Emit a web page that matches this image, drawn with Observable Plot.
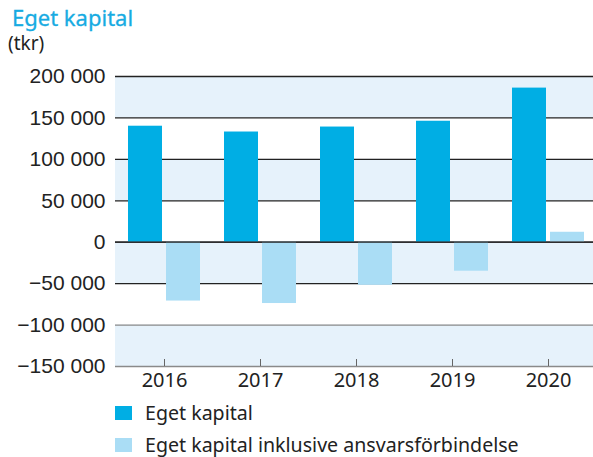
<!DOCTYPE html>
<html>
<head>
<meta charset="utf-8">
<script src="https://cdn.jsdelivr.net/npm/d3@7"></script>
<script src="https://cdn.jsdelivr.net/npm/@observablehq/plot@0.6"></script>
<style>
  html, body { margin: 0; padding: 0; background: #fff; }
  body { width: 593px; height: 457px; position: relative; overflow: hidden; font-family: "Noto Sans", sans-serif; color: #222; }
  #title { position: absolute; left: 12px; top: 0px; font-size: 22px; color: #17ABE2; font-weight: 400; line-height: 34px; white-space: nowrap; -webkit-text-stroke: 0.3px #17ABE2; }
  #unit { position: absolute; left: 8px; top: 31px; font-size: 19px; line-height: 24px; color: #222; }
  #chart { position: absolute; left: 0; top: 60px; }
  #legend { position: absolute; left: 115px; top: 401px; font-size: 19.6px; color: #222; }
  .item { display: flex; align-items: center; height: 24px; line-height: 24px; margin-bottom: 8px; white-space: nowrap; }
  .sw { width: 17px; height: 14px; margin-right: 13px; flex: none; }
</style>
</head>
<body>
<div id="title">Eget kapital</div>
<div id="unit">(tkr)</div>
<div id="chart"></div>
<div id="legend"></div>
<script>
const years = ["2016", "2017", "2018", "2019", "2020"];
const egetKapital = [140000, 133000, 139000, 146000, 186000];
const egetKapitalInklAnsvar = [-71000, -74000, -52000, -35000, 12000];
const seriesNames = ["Eget kapital", "Eget kapital inklusive ansvarsförbindelse"];
const seriesColors = ["#00AEE4", "#AADDF5"];
const yTicks = [-150000, -100000, -50000, 0, 50000, 100000, 150000, 200000];
const bandStripes = [[150000, 200000], [50000, 100000], [-50000, 0], [-150000, -100000]];

const darkData = years.map((y, i) => ({year: y, value: egetKapital[i]}));
const lightData = years.map((y, i) => ({year: y, value: egetKapitalInklAnsvar[i]}));
const stripes = bandStripes.map(([a, b]) => ({y1: a, y2: b}));
const grid = yTicks.map(v => ({v, c: v <= -100000 ? "#8a8a8a" : "#222"}));

const fmt = d => d3.format(",")(d).replace(/,/g, "\u00a0");

const chart = Plot.plot({
  width: 593,
  height: 336,
  marginTop: 16,
  marginBottom: 30,
  marginLeft: 115,
  marginRight: 0,
  x: {domain: years, range: [126, 586], paddingInner: 0.246, paddingOuter: 0, label: null},
  y: {domain: [-150000, 200000], label: null},
  marks: [
    Plot.rectY(stripes, {y1: "y1", y2: "y2", fill: "#E6F2FB"}),
    Plot.ruleY(grid, {y: "v", stroke: "c", strokeWidth: 1.3}),
    Plot.barY(darkData, {x: "year", y: "value", fill: seriesColors[0], insetRight: 38}),
    Plot.barY(lightData, {x: "year", y: "value", fill: seriesColors[1], insetLeft: 38}),
    Plot.ruleX(years, {x: d => d, y1: -150000, y2: -150000, insetTop: -7, stroke: "#666", strokeWidth: 1}),
    Plot.ruleY([0], {stroke: "#222", strokeWidth: 1.3}),
    Plot.axisY({ticks: yTicks, tickFormat: fmt, tickSize: 0, tickPadding: 10, fontSize: 21, fontFamily: "Liberation Sans, Arial, sans-serif", fill: "#222", label: null}),
    Plot.axisX({tickSize: 0, tickPadding: 6, fontSize: 20, fontFamily: "Noto Sans, sans-serif", fill: "#222", label: null})
  ]
});
document.getElementById("chart").appendChild(chart);

const legend = document.getElementById("legend");
seriesNames.forEach((name, i) => {
  const item = document.createElement("div");
  item.className = "item";
  const sw = document.createElement("span");
  sw.className = "sw";
  sw.style.background = seriesColors[i];
  const label = document.createElement("span");
  label.textContent = name;
  item.appendChild(sw);
  item.appendChild(label);
  legend.appendChild(item);
});
</script>
</body>
</html>
